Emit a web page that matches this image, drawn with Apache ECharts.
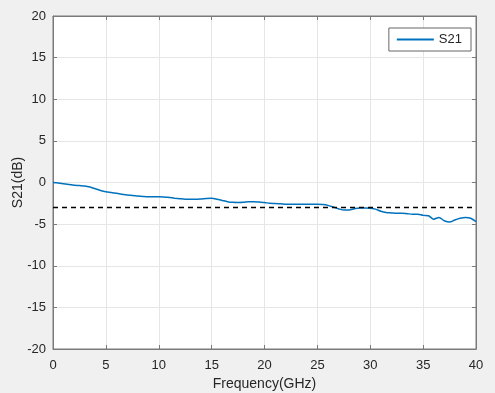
<!DOCTYPE html>
<html><head><meta charset="utf-8">
<script src="https://cdn.jsdelivr.net/npm/echarts@6/dist/echarts.min.js"></script>
<style>html,body{margin:0;padding:0;background:#f0f0f0;}#c{width:495px;height:393px;}</style>
</head><body><div id="c"></div>
<script>
const freq = [0,0.5,1,1.5,2,2.5,3,3.5,4,4.5,5,5.5,6,6.5,7,7.5,8,8.5,9,9.5,10,10.5,11,11.5,12,12.5,13,13.5,14,14.5,15,15.5,16,16.5,17,17.5,18,18.5,19,19.5,20,20.5,21,21.5,22,22.5,23,23.5,24,24.5,25,25.5,26,26.5,27,27.5,28,28.5,29,29.5,30,30.5,31,31.5,32,32.5,33,33.5,34,34.5,35,35.5,36,36.5,37,37.5,38,38.5,39,39.5,40];
const s21 = [0,-0.05,-0.15,-0.25,-0.32,-0.37,-0.42,-0.55,-0.75,-0.95,-1.1,-1.2,-1.3,-1.4,-1.5,-1.55,-1.62,-1.68,-1.72,-1.72,-1.72,-1.73,-1.8,-1.88,-1.95,-2.0,-2.0,-2.02,-1.98,-1.92,-1.9,-2.0,-2.15,-2.3,-2.38,-2.4,-2.38,-2.3,-2.3,-2.35,-2.4,-2.5,-2.52,-2.55,-2.6,-2.62,-2.62,-2.6,-2.62,-2.62,-2.62,-2.65,-2.75,-2.95,-3.15,-3.3,-3.3,-3.15,-3.05,-3.05,-3.1,-3.2,-3.45,-3.6,-3.65,-3.7,-3.7,-3.75,-3.8,-3.8,-3.95,-4.0,-4.4,-4.2,-4.6,-4.75,-4.5,-4.3,-4.2,-4.3,-4.7];
const refFreq = [0,40];
const refLevel = [-3,-3];
const seriesName = 'S21';
const xTitle = 'Frequency(GHz)';
const yTitle = 'S21(dB)';

const chart = echarts.init(document.getElementById('c'));
const font = 'Liberation Sans, Arial, sans-serif';
const axisCol = '#7a7a7a';
const gridLine = {show:true, lineStyle:{color:'#e6e6e6', width:1}};
chart.setOption({
  backgroundColor:'#f0f0f0',
  animation:false,
  grid:{left:53, right:19, top:16, bottom:44, show:true, backgroundColor:'#ffffff', borderColor:axisCol, borderWidth:1, containLabel:false, outerBoundsMode:'none'},
  legend:{data:[seriesName], right:24, top:28, orient:'vertical', backgroundColor:'#fff', borderColor:'#666', borderWidth:1, padding:[5,9,5,8], itemWidth:37, itemHeight:2, icon:'rect', itemGap:0, textStyle:{fontFamily:font, fontSize:13, color:'#262626'}},
  xAxis:[{type:'value', min:0, max:40, interval:5, position:'bottom',
    name:xTitle, nameLocation:'middle', nameGap:28, nameMoveOverlap:false, nameTextStyle:{fontFamily:font, fontSize:14, color:'#262626'},
    axisLine:{show:true, onZero:false, lineStyle:{color:axisCol}}, axisTick:{show:true, inside:true, length:4, lineStyle:{color:axisCol}},
    axisLabel:{fontFamily:font, fontSize:13, color:'#262626', margin:10}, splitLine:gridLine},
    {type:'value', min:0, max:40, interval:5, position:'top', axisLine:{show:true, onZero:false, lineStyle:{color:axisCol}}, axisTick:{show:true, inside:true, length:4, lineStyle:{color:axisCol}}, axisLabel:{show:false}, splitLine:{show:false}}],
  yAxis:[{type:'value', min:-20, max:20, interval:5, position:'left',
    name:yTitle, nameLocation:'middle', nameGap:28, nameMoveOverlap:false, nameTextStyle:{fontFamily:font, fontSize:14, color:'#262626'},
    axisLine:{show:true, onZero:false, lineStyle:{color:axisCol}}, axisTick:{show:true, inside:true, length:4, lineStyle:{color:axisCol}},
    axisLabel:{fontFamily:font, fontSize:13, color:'#262626', margin:7}, splitLine:gridLine},
    {type:'value', min:-20, max:20, interval:5, position:'right', axisLine:{show:true, onZero:false, lineStyle:{color:axisCol}}, axisTick:{show:true, inside:true, length:4, lineStyle:{color:axisCol}}, axisLabel:{show:false}, splitLine:{show:false}}],
  series:[
    {name:seriesName, type:'line', showSymbol:false, smooth:0.3, data:freq.map((f,i)=>[f,s21[i]]), lineStyle:{color:'#0072BD', width:1.5}, itemStyle:{color:'#0072BD'}},
    {name:'ref', type:'line', showSymbol:false, data:refFreq.map((f,i)=>[f,refLevel[i]]), lineStyle:{color:'#000', width:1.5, type:[5,4]}, itemStyle:{color:'#000'}}
  ]
});
</script></body></html>
